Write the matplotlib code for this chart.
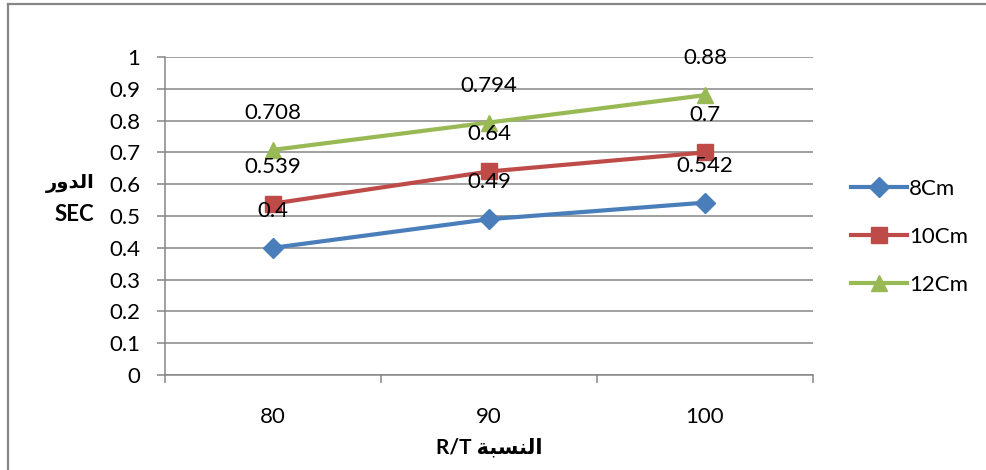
import matplotlib
matplotlib.use('Agg')
import matplotlib.pyplot as plt
from matplotlib.lines import Line2D
from matplotlib.ticker import FixedLocator

plt.rcParams['font.family'] = ['Lato', 'DejaVu Sans']

# Data
ratios = ['80', '90', '100']
series_names = ['8Cm', '10Cm', '12Cm']
period_8cm = [0.4, 0.49, 0.542]
period_10cm = [0.539, 0.64, 0.7]
period_12cm = [0.708, 0.794, 0.88]
y_ticks = [0, 0.1, 0.2, 0.3, 0.4, 0.5, 0.6, 0.7, 0.8, 0.9, 1]

# Arabic labels written in presentation forms, visual (left-to-right) order
ylabel_ar = '\uFEAD\uFEED\uFEAA\uFEDF\uFE8D'          # الدور
xlabel_ar = '\uFE94\uFE92\uFEB4\uFEE8\uFEDF\uFE8D'    # النسبة

BLUE = '#4A7EBB'
RED = '#BE4B48'
GREEN = '#98B954'
GRID = '#868686'
FS = 16

W, H = 986, 470
fig = plt.figure(figsize=(W / 100, H / 100), dpi=100)
ax = fig.add_axes([165 / W, 1 - 375 / H, (813 - 165) / W, (375 - 57) / H])

x = list(range(len(ratios)))
styles = [
    (period_8cm, BLUE, 'D', 10),
    (period_10cm, RED, 's', 11),
    (period_12cm, GREEN, '^', 12),
]
for (vals, color, marker, ms), name in zip(styles, series_names):
    ax.plot(x, vals, color=color, linewidth=3, marker=marker, markersize=ms,
            markeredgecolor=color, label=name, zorder=3)
    for xi, v in zip(x, vals):
        ax.annotate(f'{v:g}', xy=(xi, v), xytext=(0, 37), textcoords='offset pixels',
                    ha='center', va='center', fontsize=FS, color='black', zorder=4)

ax.set_xlim(-0.5, 2.5)
ax.set_ylim(0, 1)
ax.set_yticks(y_ticks)
ax.set_yticklabels([f'{t:g}' for t in y_ticks], fontsize=FS)
ax.set_xticks(x)
ax.set_xticklabels(ratios, fontsize=FS)
ax.xaxis.set_minor_locator(FixedLocator([-0.5, 0.5, 1.5, 2.5]))

ax.grid(True, axis='y', color=GRID, linewidth=1.1, zorder=1)
ax.tick_params(axis='y', which='major', length=6, width=1.1, color=GRID, pad=12)
ax.tick_params(axis='x', which='major', length=0, pad=23)
ax.tick_params(axis='x', which='minor', length=6, width=1.1, color=GRID, direction='out')
for side in ['top', 'right']:
    ax.spines[side].set_visible(False)
ax.spines['left'].set_color(GRID)
ax.spines['left'].set_linewidth(1.1)
ax.spines['bottom'].set_color(GRID)
ax.spines['bottom'].set_linewidth(1.1)

# Axis titles
fig.text(489 / W, 1 - 447 / H, 'R/T ' + xlabel_ar, ha='center', va='center',
         fontsize=15, fontweight='bold')
fig.text(95 / W, 1 - 183 / H, ylabel_ar, ha='right', va='center',
         fontsize=14, fontweight='bold')
fig.text(94 / W, 1 - 215 / H, 'SEC', ha='right', va='center',
         fontsize=16, fontweight='bold')

# Legend
fig.legend(loc='center left', bbox_to_anchor=(831 / W, 1 - 237 / H), frameon=False,
           fontsize=FS, handlelength=2.5, handletextpad=0.1, labelspacing=1.25)

# Chart area border (top and left edges)
fig.add_artist(Line2D([8 / W, 8 / W], [0, 1 - 4 / H], color=GRID, linewidth=1.6,
                      transform=fig.transFigure))
fig.add_artist(Line2D([8 / W, 1], [1 - 4 / H, 1 - 4 / H], color=GRID, linewidth=1.6,
                      transform=fig.transFigure))

fig.savefig('out.png', dpi=100)
